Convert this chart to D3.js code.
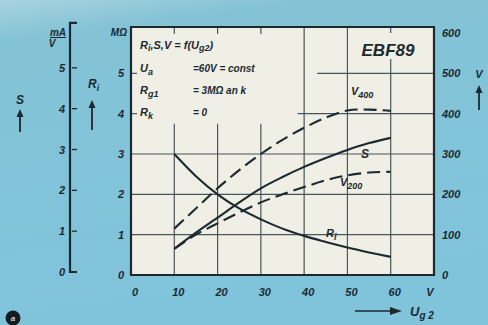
<!DOCTYPE html>
<html>
<head>
<meta charset="utf-8">
<script src="https://cdn.jsdelivr.net/npm/d3@7"></script>
<style>
  body { margin: 0; background: #80c2d8; }
  svg text { font-family: "Liberation Sans", Arial, sans-serif; font-style: italic; font-weight: bold; fill: #1c2a30; }
</style>
</head>
<body>
<svg width="488" height="325"></svg>
<script>
// EBF89: Ri, S, V as function of Ug2
const ug2 = [10, 15, 20, 25, 30, 35, 40, 45, 50, 55, 60];
const riValues = [3.0, 2.45, 2.0, 1.65, 1.38, 1.15, 0.97, 0.82, 0.68, 0.56, 0.45];   // MOhm
const sValues = [0.65, 1.05, 1.42, 1.8, 2.15, 2.43, 2.68, 2.9, 3.1, 3.27, 3.4];      // mA/V
const v200Values = [65, 100, 128, 155, 180, 200, 218, 235, 247, 254, 256];          // V
const v400Values = [115, 165, 215, 260, 300, 335, 365, 390, 408, 410, 407];         // V

const xTicks = [0, 10, 20, 30, 40, 50, 60];
const leftTicks = [0, 1, 2, 3, 4, 5];
const rightTicks = [0, 100, 200, 300, 400, 500, 600];
const sTicks = [0, 1, 2, 3, 4, 5];

const ink = "#1c2a30";
const paper = "#f0efe6";
const svg = d3.select("svg");

// background
const defs = svg.append("defs");
const grad = defs.append("linearGradient").attr("id", "bg").attr("x1", 0).attr("y1", 0).attr("x2", 0.2).attr("y2", 1);
grad.append("stop").attr("offset", "0%").attr("stop-color", "#a9d3df");
grad.append("stop").attr("offset", "12%").attr("stop-color", "#84c3d6");
grad.append("stop").attr("offset", "100%").attr("stop-color", "#80c4dc");
svg.append("rect").attr("width", 488).attr("height", 325).attr("fill", "url(#bg)");

const x = d3.scaleLinear().domain([0, 70]).range([131, 434]);
const y = d3.scaleLinear().domain([0, 6]).range([275, 33]);
const yV = d3.scaleLinear().domain([0, 600]).range([275, 33]);
const yS = d3.scaleLinear().domain([0, 6]).range([272, 27]);

const plotTop = 27;

// plot paper
svg.append("rect")
  .attr("x", x(0)).attr("y", plotTop)
  .attr("width", x(70) - x(0)).attr("height", y(0) - plotTop)
  .attr("fill", paper);

// grid
const grid = svg.append("g").attr("stroke", "#48555b").attr("stroke-width", 1.2);
[10, 20, 30].forEach(function(v) {
  grid.append("line").attr("x1", x(v)).attr("x2", x(v)).attr("y1", y(0)).attr("y2", y(3.75));
  grid.append("line").attr("x1", x(v)).attr("x2", x(v)).attr("y1", plotTop).attr("y2", plotTop + 7);
});
[40, 50, 60].forEach(function(v) {
  grid.append("line").attr("x1", x(v)).attr("x2", x(v)).attr("y1", y(0)).attr("y2", plotTop);
});
[1, 2, 3].forEach(function(v) {
  grid.append("line").attr("x1", x(0)).attr("x2", x(70)).attr("y1", y(v)).attr("y2", y(v));
});
grid.append("line").attr("x1", x(38.5)).attr("x2", x(70)).attr("y1", y(4)).attr("y2", y(4));
grid.append("line").attr("x1", x(43)).attr("x2", x(70)).attr("y1", y(5)).attr("y2", y(5));
[4, 5].forEach(function(v) {
  grid.append("line").attr("x1", x(0)).attr("x2", x(0) + 6).attr("y1", y(v)).attr("y2", y(v));
});
// white-out behind the type label
svg.append("rect").attr("x", 348).attr("y", 33).attr("width", 80).attr("height", 26).attr("fill", paper);

// frame
svg.append("path")
  .attr("d", "M" + x(0) + "," + plotTop + "H" + x(70) + "V" + y(0) + "H" + x(0) + "Z")
  .attr("fill", "none").attr("stroke", ink).attr("stroke-width", 2.2);

// curves
const line = d3.line().curve(d3.curveCatmullRom.alpha(0.5));
function pts(vals, sc) { return ug2.map(function(u, i) { return [x(u), sc(vals[i])]; }); }
const curves = [
  { vals: riValues, sc: y, dash: null },
  { vals: sValues, sc: y, dash: null },
  { vals: v200Values, sc: yV, dash: "13,6" },
  { vals: v400Values, sc: yV, dash: "13,6" }
];
svg.append("g").selectAll("path")
  .data(curves)
  .join("path")
  .attr("d", function(d) { return line(pts(d.vals, d.sc)); })
  .attr("fill", "none")
  .attr("stroke", ink)
  .attr("stroke-width", 2.1)
  .attr("stroke-dasharray", function(d) { return d.dash; });

// x axis labels
svg.append("g").selectAll("text")
  .data(xTicks)
  .join("text")
  .attr("x", function(d) { return x(d) + 4; })
  .attr("y", 296)
  .attr("text-anchor", "middle")
  .attr("font-size", 11)
  .text(function(d) { return d; });
svg.append("text").attr("x", 430).attr("y", 296).attr("font-size", 11).attr("text-anchor", "middle").text("V");

// left (Ri) labels
svg.append("g").selectAll("text")
  .data(leftTicks)
  .join("text")
  .attr("x", 124)
  .attr("y", function(d) { return y(d) + 4; })
  .attr("text-anchor", "end")
  .attr("font-size", 11)
  .text(function(d) { return d; });
svg.append("text").attr("x", 127).attr("y", 36).attr("text-anchor", "end").attr("font-size", 10).text("MΩ");

// right (V) labels
svg.append("g").selectAll("text")
  .data(rightTicks)
  .join("text")
  .attr("x", 442)
  .attr("y", function(d) { return yV(d) + 4; })
  .attr("font-size", 11)
  .text(function(d) { return d; });

// S axis
const sAxis = svg.append("g").attr("stroke", ink).attr("stroke-width", 2.2).attr("fill", "none");
sAxis.append("path").attr("d", "M77," + yS(6.1) + "H70V" + yS(0) + "H77");
svg.append("g").attr("stroke", ink).attr("stroke-width", 1.3).selectAll("line")
  .data(sTicks.slice(1))
  .join("line")
  .attr("x1", 72).attr("x2", 77)
  .attr("y1", function(d) { return yS(d); }).attr("y2", function(d) { return yS(d); });
svg.append("g").selectAll("text")
  .data(sTicks)
  .join("text")
  .attr("x", 65)
  .attr("y", function(d) { return yS(d) + 4; })
  .attr("text-anchor", "end")
  .attr("font-size", 11)
  .text(function(d) { return d; });
svg.append("text").attr("x", 66).attr("y", 36).attr("text-anchor", "end").attr("font-size", 10).attr("text-decoration", "underline").text("mA");
svg.append("text").attr("x", 52).attr("y", 47).attr("text-anchor", "middle").attr("font-size", 10).text("V");

// axis titles with arrows
function upArrow(cx, y1, y2) {
  svg.append("line").attr("x1", cx).attr("x2", cx).attr("y1", y1).attr("y2", y2 + 6)
    .attr("stroke", ink).attr("stroke-width", 1.8);
  svg.append("path").attr("d", "M" + (cx - 3.5) + "," + (y2 + 8) + "L" + cx + "," + y2 + "L" + (cx + 3.5) + "," + (y2 + 8) + "Z")
    .attr("fill", ink);
}
svg.append("text").attr("x", 20).attr("y", 104).attr("text-anchor", "middle").attr("font-size", 12).text("S");
upArrow(20, 132, 109);
const ri = svg.append("text").attr("x", 88).attr("y", 88).attr("font-size", 12);
ri.append("tspan").text("R");
ri.append("tspan").attr("font-size", 9).attr("dy", 3).text("i");
upArrow(92, 130, 100);
svg.append("text").attr("x", 479).attr("y", 78).attr("text-anchor", "middle").attr("font-size", 11).text("V");
upArrow(479, 110, 85);

// Ug2 arrow
svg.append("line").attr("x1", 355).attr("x2", 392).attr("y1", 311).attr("y2", 311).attr("stroke", ink).attr("stroke-width", 1.6);
svg.append("path").attr("d", "M390,307L402,311L390,315Z").attr("fill", ink);
const ug = svg.append("text").attr("x", 410).attr("y", 316).attr("font-size", 13);
ug.append("tspan").text("U");
ug.append("tspan").attr("font-size", 10).attr("dy", 3).text("g 2");

// annotation
function sub(main, s, px, py, fs) {
  const el = svg.append("text").attr("x", px).attr("y", py).attr("font-size", fs);
  el.append("tspan").text(main);
  el.append("tspan").attr("font-size", fs - 2).attr("dy", 3).text(s);
  return el;
}
const a1 = svg.append("text").attr("x", 140).attr("y", 49).attr("font-size", 11);
a1.append("tspan").text("R");
a1.append("tspan").attr("font-size", 9).attr("dy", 2).text("i");
a1.append("tspan").attr("dy", -2).text(",S,V  = f(U");
a1.append("tspan").attr("font-size", 9).attr("dy", 2).text("g2");
a1.append("tspan").attr("dy", -2).text(")");
sub("U", "a", 140, 72, 11);
svg.append("text").attr("x", 193).attr("y", 72).attr("font-size", 10).text("=60V = const");
sub("R", "g1", 140, 94, 11);
svg.append("text").attr("x", 193).attr("y", 94).attr("font-size", 10).text("= 3MΩ an k");
sub("R", "k", 140, 116, 11);
svg.append("text").attr("x", 193).attr("y", 116).attr("font-size", 10).text("= 0");

svg.append("text").attr("x", 388).attr("y", 56).attr("text-anchor", "middle").attr("font-size", 17)
  .attr("font-weight", "normal").text("EBF89");

// curve labels
sub("V", "400", 351, 95, 11);
svg.append("text").attr("x", 361).attr("y", 158).attr("font-size", 12).text("S");
sub("V", "200", 340, 186, 11);
sub("R", "i", 326, 237, 11);

// corner badge
svg.append("circle").attr("cx", 13).attr("cy", 318).attr("r", 7.5).attr("fill", "#141c20");
svg.append("text").attr("x", 13).attr("y", 321).attr("text-anchor", "middle").attr("font-size", 8)
  .style("fill", "#cfd8da").text("a");
</script>
</body>
</html>
